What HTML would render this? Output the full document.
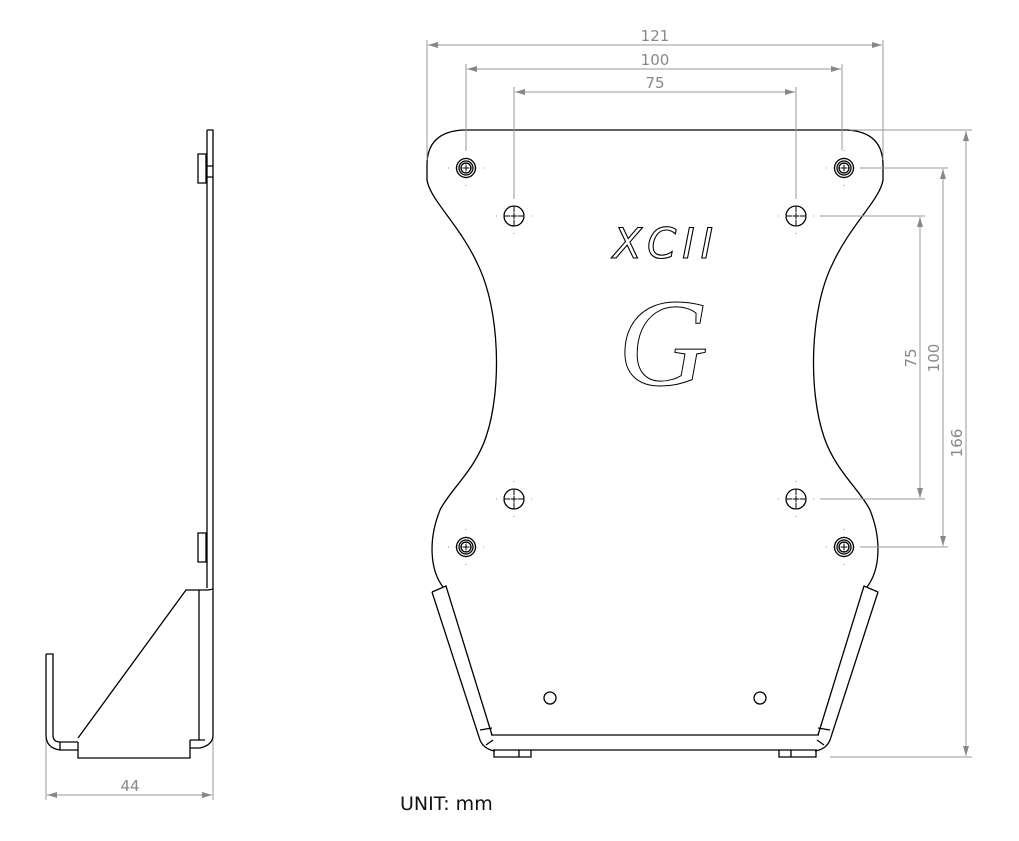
<!DOCTYPE html>
<html><head><style>
html,body{margin:0;padding:0;background:#fff;}
svg{display:block}
.d{font-family:"DejaVu Sans","Liberation Sans",sans-serif;}
</style></head><body>
<svg width="1019" height="841" viewBox="0 0 1019 841" xmlns="http://www.w3.org/2000/svg">
<defs>
<g id="half" fill="none" stroke="#000" stroke-width="1.3">
<path d="M655,130 L463,130 Q427,132 427,165 L427,180 C430,200 460,225 478,265 C500,310 502,390 486,437 C475,470 450,490 440,510 C428,540 430,570 443,587"/>
<path d="M432,592 L446,586 L492,735 M432,592 L479,737 Q482,749 495,751"/>
<path d="M655,735 L491,735 M655,750 L493,750 M480,730 L492,728 M486,745 L493,740"/>
<path d="M494,750 V757 H531 V750 M519,750 V757"/>
<circle cx="466" cy="168" r="9.5"/><circle cx="466" cy="168" r="7"/><circle cx="466" cy="168" r="5"/>
<path d="M461,168h10M466,163v10" stroke-width="1"/>
<circle cx="466" cy="547" r="9.5"/><circle cx="466" cy="547" r="7"/><circle cx="466" cy="547" r="5"/>
<path d="M461,547h10M466,542v10" stroke-width="1"/>
<circle cx="514" cy="216" r="10"/><path d="M504,216h20M514,206v20" stroke-width="1"/>
<circle cx="514" cy="499" r="10"/><path d="M504,499h20M514,489v20" stroke-width="1"/>
<circle cx="550" cy="698" r="6"/>
<g stroke="#999" stroke-width="1" stroke-dasharray="1 6">
<path d="M448,168h36M466,150v36M448,547h36M466,529v36M496,216h36M514,198v36M496,499h36M514,481v36"/>
</g>
</g>
</defs>
<use href="#half"/>
<use href="#half" transform="translate(1310,0) scale(-1,1)"/>
<text x="613" y="258" style="font-family:'DejaVu Sans',sans-serif;font-size:42px;font-style:italic;font-weight:200" fill="none" stroke="#000" stroke-width="1.1" textLength="100">XCII</text>
<text x="618" y="385" style="font-family:'Liberation Serif',serif;font-size:125px;font-style:italic" fill="#fff" stroke="#000" stroke-width="1">G</text>
<g stroke="#999" stroke-width="1" fill="none">
<path d="M427,40V160M883,40V160M466,64V150M842,64V150M514,87V198M796,87V198"/>
<path d="M428,45H882M467,69H841M515,92H795"/>
<path d="M860,168H948M820,216H925M820,499H925M860,547H948M850,130H972M830,757H972"/>
<path d="M920,217V498M943,169V546M966,131V756"/>
<path d="M46,660V800M213,600V800"/>
<path d="M47,795H212"/>
</g>
<g fill="#888">
<path d="M428,45l10,-3v6zM882,45l-10,-3v6zM467,69l10,-3v6zM841,69l-10,-3v6zM515,92l10,-3v6zM795,92l-10,-3v6z"/>
<path d="M47,795l10,-3v6zM212,795l-10,-3v6z"/>
<path d="M920,217l-3,10h6zM920,498l-3,-10h6zM943,169l-3,10h6zM943,546l-3,-10h6zM966,131l-3,10h6zM966,756l-3,-10h6z"/>
</g>
<g fill="#888" font-size="15" text-anchor="middle" class="d">
<text x="655" y="41">121</text>
<text x="655" y="65">100</text>
<text x="655" y="88">75</text>
<text transform="translate(916,358) rotate(-90)">75</text>
<text transform="translate(939,358) rotate(-90)">100</text>
<text transform="translate(962,443) rotate(-90)">166</text>
<text x="130" y="791">44</text>
</g>
<g fill="none" stroke="#000" stroke-width="1.3">
<path d="M207,130H213V588M207,130V588"/>
<path d="M198,154H206V183H198Z M207,166H213M207,177H213"/>
<path d="M198,533H206V562H198Z"/>
<path d="M213,588 Q213,590 205,590 L186,590 L78,738 M199,590V740"/>
<path d="M213,588 V735 Q213,745 200,748 L190,748 M190,740 V758 H78 V742"/>
<path d="M46,654H53V735Q53,742 60,742H78M46,654V735Q46,748 60,750H78M60,742V750M190,740H205"/>
</g>
<text x="400" y="810" class="d" font-size="19" fill="#111">UNIT: mm</text>
</svg>
</body></html>
